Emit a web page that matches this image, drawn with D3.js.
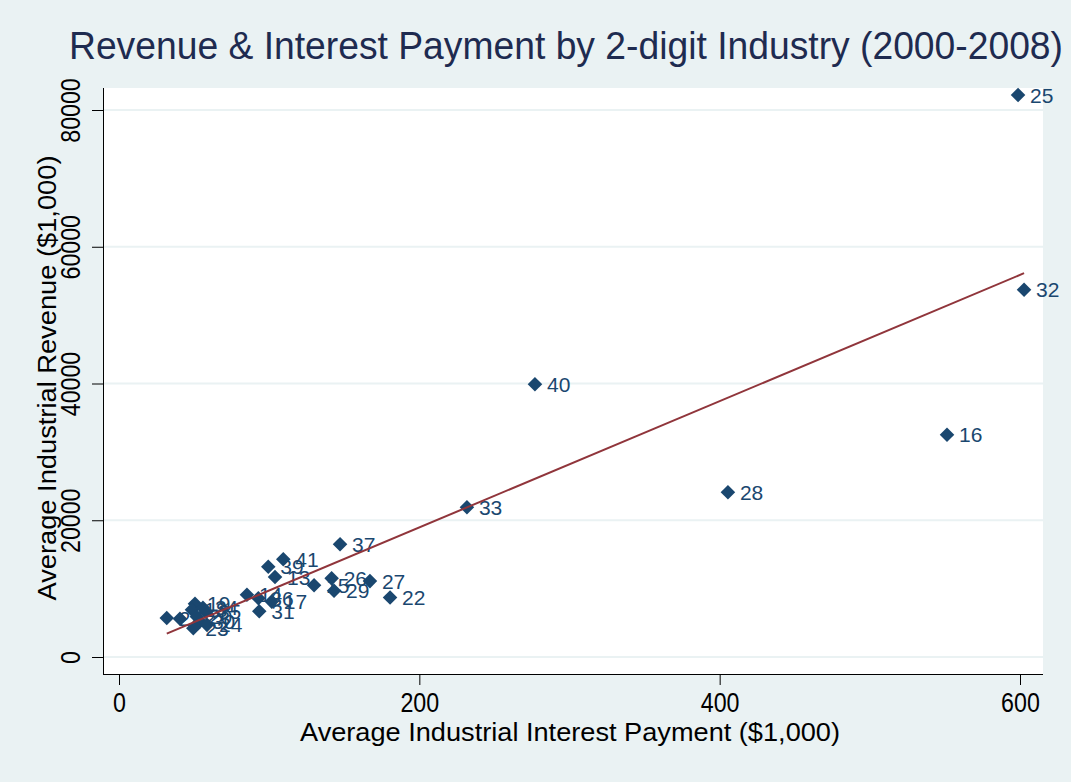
<!DOCTYPE html>
<html><head><meta charset="utf-8">
<script src="https://cdn.jsdelivr.net/npm/d3@7"></script>
<style>html,body{margin:0;padding:0;background:#eaf2f3;}svg{display:block;}</style>
</head><body>
<script>
const industries = ["25","32","40","16","28","33","37","41","39","13","15","26","29","27","22","14","36","17","31","21","42","19","18","35","30","23","24","20","34"];
const interestPayment = [598.7,602.7,277.0,551.4,405.5,231.7,147.2,109.4,99.4,103.9,129.9,141.6,143.2,167.1,180.5,85.2,92.8,101.7,93.4,31.8,40.6,50.6,48.6,57.9,53.9,49.5,58.6,51.9,55.9];
const revenue = [82200,53700,39900,32500,24100,21900,16500,14300,13200,11700,10500,11500,9700,11100,8700,9100,8600,8100,6700,5700,5600,7800,6900,6600,5200,4200,4700,5900,7200];
const xTicks = [0,200,400,600];
const yTicks = [0,20000,40000,60000,80000];
const titleText = "Revenue & Interest Payment by 2-digit Industry (2000-2008)";
const xTitle = "Average Industrial Interest Payment ($1,000)";
const yTitle = "Average Industrial Revenue ($1,000)";

const W = 1071, H = 782;
const plot = {l:103, r:1043, t:88, b:674};
const navy = "#1a476f", maroon = "#90353b";
const font = "'Liberation Sans', Arial, Helvetica, sans-serif";

const svg = d3.select("body").append("svg").attr("width", W).attr("height", H);
svg.append("rect").attr("width", W).attr("height", H).attr("fill", "#eaf2f3");
svg.append("rect").attr("x", plot.l).attr("y", plot.t).attr("width", plot.r - plot.l).attr("height", plot.b - plot.t).attr("fill", "#ffffff");

const x = d3.scaleLinear().domain([0, 600]).range([119, 1020]);
const y = d3.scaleLinear().domain([0, 80000]).range([657, 110]);

// gridlines
svg.append("g").selectAll("line").data(yTicks).join("line")
  .attr("x1", plot.l + 1).attr("x2", plot.r).attr("y1", d => y(d)).attr("y2", d => y(d))
  .attr("stroke", "#eaf2f3").attr("stroke-width", 2);

function condense(sel, f) {
  sel.each(function() {
    const L = this.getComputedTextLength();
    d3.select(this).attr("textLength", L * f).attr("lengthAdjust", "spacingAndGlyphs");
  });
}

// axes
const gx = svg.append("g").attr("transform", `translate(0,${plot.b})`)
  .call(d3.axisBottom(x).tickValues(xTicks).tickSize(11).tickPadding(8).tickFormat(d3.format("d")));
gx.select(".domain").attr("d", `M${plot.l},0.5H${plot.r}`).attr("stroke", "#000");
gx.selectAll("text").attr("font-family", font).attr("font-size", 27).attr("fill", "#000");
gx.selectAll(".tick line").attr("stroke", "#000");
condense(gx.selectAll("text"), 0.86);

const gy = svg.append("g").attr("transform", `translate(${plot.l},0)`)
  .call(d3.axisLeft(y).tickValues(yTicks).tickSize(11).tickFormat(d3.format("d")));
gy.select(".domain").attr("d", `M0.5,${plot.t}V${plot.b}`).attr("stroke", "#000");
gy.selectAll(".tick line").attr("stroke", "#000");
gy.selectAll("text")
  .attr("font-family", font).attr("font-size", 27).attr("fill", "#000")
  .attr("x", null).attr("dy", null)
  .attr("text-anchor", "middle")
  .attr("transform", "translate(-23,0) rotate(-90)");
condense(gy.selectAll("text"), 0.86);

// titles
svg.append("text").attr("x", 566).attr("y", 59).attr("text-anchor", "middle")
  .attr("font-family", font).attr("font-size", 38).attr("fill", "#1e2b50")
  .attr("textLength", 994).attr("lengthAdjust", "spacingAndGlyphs").text(titleText);
svg.append("text").attr("x", 570).attr("y", 741).attr("text-anchor", "middle")
  .attr("font-family", font).attr("font-size", 26).attr("fill", "#000")
  .attr("textLength", 540).attr("lengthAdjust", "spacingAndGlyphs").text(xTitle);
svg.append("text").attr("transform", "translate(56,378) rotate(-90)").attr("text-anchor", "middle")
  .attr("font-family", font).attr("font-size", 26).attr("fill", "#000")
  .attr("textLength", 445).attr("lengthAdjust", "spacingAndGlyphs").text(yTitle);

// data
const data = industries.map((k, i) => ({k, x: interestPayment[i], y: revenue[i]}));

// OLS fit
const mx = d3.mean(data, d => d.x), my = d3.mean(data, d => d.y);
const b = d3.sum(data, d => (d.x - mx) * (d.y - my)) / d3.sum(data, d => (d.x - mx) ** 2);
const a = my - b * mx;
const [xmin, xmax] = d3.extent(data, d => d.x);

const sym = d3.symbol().type(d3.symbolDiamond2).size(135);
svg.append("g").selectAll("path").data(data).join("path")
  .attr("d", sym).attr("transform", d => `translate(${x(d.x)},${y(d.y)})`).attr("fill", navy);
svg.append("g").selectAll("text").data(data).join("text")
  .attr("x", d => x(d.x) + 12).attr("y", d => y(d.y)).attr("dy", "0.36em")
  .attr("font-family", font).attr("font-size", 21).attr("fill", navy).text(d => d.k);

svg.append("path")
  .attr("d", d3.line().x(d => x(d)).y(d => y(a + b * d))([xmin, xmax]))
  .attr("stroke", maroon).attr("stroke-width", 2).attr("fill", "none");
</script>
</body></html>
